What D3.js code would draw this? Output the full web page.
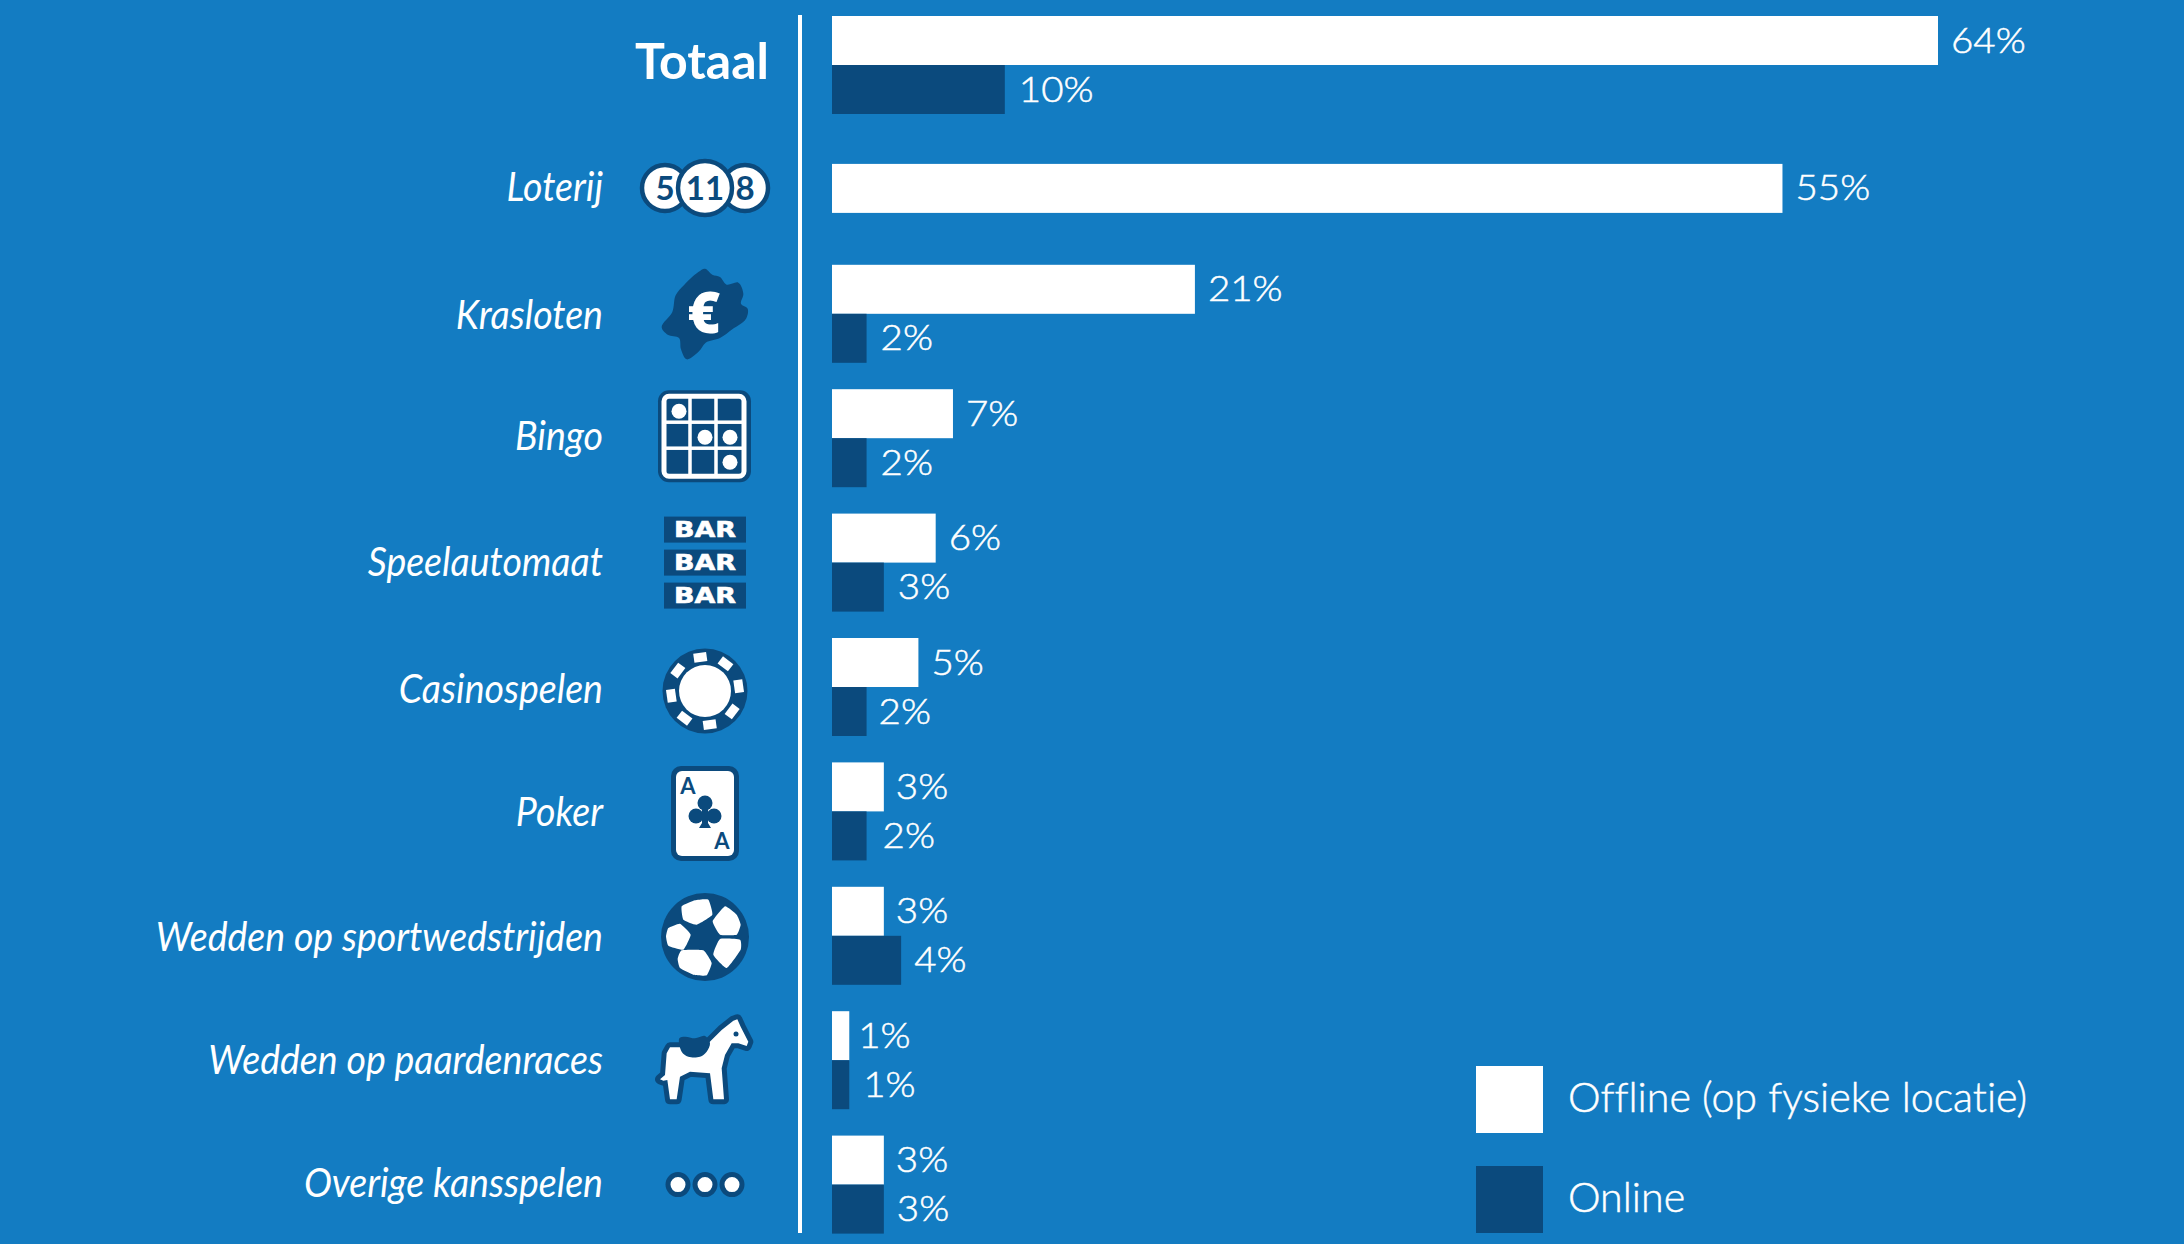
<!DOCTYPE html>
<html><head><meta charset="utf-8">
<script src="https://cdn.jsdelivr.net/npm/d3@7"></script>
<style>html,body{margin:0;padding:0;background:#137cc2}svg{display:block}text{font-variant-ligatures:none}</style>
</head><body><svg id="c" width="2184" height="1244"></svg>
<script>
const categories = ["Totaal","Loterij","Krasloten","Bingo","Speelautomaat","Casinospelen","Poker","Wedden op sportwedstrijden","Wedden op paardenraces","Overige kansspelen"];
const offlineValues = [64,55,21,7,6,5,3,3,1,3];
const onlineValues  = [10,null,2,2,3,2,2,4,1,3];
const seriesNames = ["Offline (op fysieke locatie)","Online"];

const BG="#137cc2", DARK="#0b4a7d", WHITE="#fff";
const FONT="Lato, 'Noto Sans', sans-serif";
const svg=d3.select("#c");
svg.append("rect").attr("width",2184).attr("height",1244).attr("fill",BG);

const x=d3.scaleLinear().domain([0,64]).range([832,1938]);
const y=d3.scaleBand().domain(categories).range([2.8,1246.8]).padding(0);
const cy=c=>y(c)+y.bandwidth()/2;
const barH=49;

// small hand-set layout corrections, per row
const labelDy=[0,0,3,0,1,4,3,3,2,0];
const offDx=[0,0,0,0,0,0,-1,-1,-4,-1];
const onDx=[1,0,1,1,1,-1,3,0,1,0];

const marks=[];
categories.forEach((c,i)=>{
  const off=offlineValues[i], on=onlineValues[i];
  if(on==null){marks.push({c,v:off,top:cy(c)-barH/2-1,fill:WHITE,dx:offDx[i]});}
  else{
    marks.push({c,v:off,top:cy(c)-barH,fill:WHITE,dx:offDx[i]});
    marks.push({c,v:on,top:cy(c),fill:DARK,dx:onDx[i]});
  }
});
svg.append("g").selectAll("rect").data(marks).join("rect")
  .attr("x",x(0)).attr("y",d=>d.top).attr("width",d=>x(d.v)-x(0)).attr("height",barH).attr("fill",d=>d.fill);
svg.append("g").selectAll("text").data(marks).join("text")
  .attr("transform",d=>`translate(${x(d.v)+13+d.dx},${d.top+barH/2+12}) scale(1.07,1)`)
  .attr("font-family",FONT).attr("font-weight",300).attr("font-size",36)
  .attr("fill",WHITE).attr("stroke",WHITE).attr("stroke-width",.5)
  .text(d=>d.v+"%");

// axis line
svg.append("rect").attr("x",798).attr("width",4).attr("y",15).attr("height",1218).attr("fill",WHITE);

// category labels
svg.append("g").selectAll("text").data(categories).join("text")
  .attr("transform",(d,i)=>d==="Totaal"
     ?`translate(769,${cy(d)+14})`
     :`translate(603,${cy(d)+12+labelDy[i]}) scale(.915,1)`)
  .attr("text-anchor","end").attr("fill",WHITE).attr("font-family",FONT)
  .attr("font-style",d=>d==="Totaal"?"normal":"italic")
  .attr("font-weight",d=>d==="Totaal"?700:400)
  .attr("font-size",d=>d==="Totaal"?50:41)
  .text(d=>d);

// legend
const leg=svg.append("g").selectAll("g").data(seriesNames).join("g");
leg.append("rect").attr("x",1476).attr("width",67).attr("height",67)
  .attr("y",(d,i)=>i?1166:1066).attr("fill",(d,i)=>i?DARK:WHITE);
leg.append("text").attr("transform",(d,i)=>`translate(1568,${i?1212:1112}) scale(.98,1)`)
  .attr("font-family",FONT).attr("font-weight",300).attr("font-size",42)
  .attr("fill",WHITE).attr("stroke",WHITE).attr("stroke-width",.5).text(d=>d);

// pictograms (local coordinates around each icon's centre)
const ix=705;
const icon=c=>svg.append("g").attr("transform",`translate(${ix},${cy(c)})`);
const poly=(g,pts,fill,curve)=>g.append("path").attr("d",d3.line().curve(curve||d3.curveLinearClosed)(pts)).attr("fill",fill);

// Loterij
{const g=icon("Loterij");
 g.attr("transform",`translate(${ix},188)`);
 [[-40,0,23,"5"],[40,0,23,"8"],[0,0,27,"11"]].forEach(([a,b,r,t])=>{
  g.append("circle").attr("cx",a).attr("cy",b).attr("r",r).attr("fill",WHITE).attr("stroke",DARK).attr("stroke-width",4.5);
  g.append("text").attr("x",a).attr("y",b+12).attr("text-anchor","middle").attr("font-family",FONT).attr("font-weight",700).attr("font-size",33).attr("fill",DARK).text(t);
 });}
// Krasloten
{const g=icon("Krasloten");
 g.attr("transform",`translate(655,262)`);
 const P=[[130,30],[150,20],[172,38],[195,45],[215,68],[250,62],[265,95],[258,125],[278,140],[272,172],[232,202],[195,228],[152,242],[132,268],[95,292],[78,262],[72,228],[38,218],[20,195],[52,150],[62,100],[88,68]]
  .map(([a,b])=>[a/3,b/3]);
 poly(g,P,DARK,d3.curveCatmullRomClosed);
 g.append("text").attr("x",49).attr("y",71).attr("text-anchor","middle").attr("font-family","'Open Sans',sans-serif").attr("font-weight",800).attr("font-size",56).attr("fill",WHITE).text("€");}
// Bingo
{const g=icon("Bingo");
 g.append("rect").attr("x",-47).attr("y",-48).attr("width",93).attr("height",92).attr("rx",11).attr("fill",DARK);
 g.append("rect").attr("x",-41).attr("y",-42).attr("width",80).attr("height",80).attr("rx",5).attr("fill","none").attr("stroke",WHITE).attr("stroke-width",5);
 [-15,11].forEach(a=>g.append("rect").attr("x",a-1.75).attr("y",-42).attr("width",3.5).attr("height",80).attr("fill",WHITE));
 [-16,10].forEach(b=>g.append("rect").attr("x",-41).attr("y",b-1.75).attr("width",80).attr("height",3.5).attr("fill",WHITE));
 [[-26,-27],[0,-1],[25,-1],[25,24]].forEach(([a,b])=>g.append("circle").attr("cx",a).attr("cy",b).attr("r",7.5).attr("fill",WHITE));}
// Speelautomaat
{const g=icon("Speelautomaat");
 [-46,-13,20].forEach(b=>{
  g.append("rect").attr("x",-41).attr("y",b).attr("width",82).attr("height",26).attr("fill",DARK);
  g.append("text").attr("x",-31).attr("y",b+20.5).attr("textLength",62).attr("lengthAdjust","spacingAndGlyphs").attr("font-family","'DejaVu Sans',sans-serif").attr("font-weight",700).attr("font-size",21).attr("stroke",WHITE).attr("stroke-width",.6).attr("fill",WHITE).text("BAR");
 });}
// Casinospelen
{const g=icon("Casinospelen");
 g.attr("transform",`translate(${ix},691)`);
 g.append("circle").attr("r",42.5).attr("fill",DARK);
 g.append("circle").attr("r",26).attr("fill",WHITE);
 d3.range(8).forEach(k=>g.append("rect").attr("x",-6.5).attr("y",-38.5).attr("width",13).attr("height",9).attr("fill",WHITE).attr("transform",`rotate(${-8+k*45})`));}
// Poker
{const g=icon("Poker");
 g.attr("transform",`translate(${ix},813)`);
 g.append("rect").attr("x",-34).attr("y",-47).attr("width",68).attr("height",95).attr("rx",10).attr("fill",DARK);
 g.append("rect").attr("x",-29).attr("y",-42).attr("width",58).attr("height",85).attr("rx",6).attr("fill",WHITE);
 g.append("text").attr("x",-17).attr("y",-19).attr("text-anchor","middle").attr("font-family",FONT).attr("font-weight",700).attr("font-size",22).attr("fill",DARK).text("A");
 g.append("text").attr("x",17).attr("y",36).attr("text-anchor","middle").attr("font-family",FONT).attr("font-weight",700).attr("font-size",22).attr("fill",DARK).text("A");
 [[0,-10],[-9,3],[9,3]].forEach(([a,b])=>g.append("circle").attr("cx",a).attr("cy",b).attr("r",7.5).attr("fill",DARK));
 poly(g,[[-3,-4],[3,-4],[3,10],[6,15],[-6,15],[-3,10]],DARK);}
// Football
{const g=icon("Wedden op sportwedstrijden");
 g.attr("transform",`translate(${ix},937)`);
 g.append("circle").attr("r",44).attr("fill",DARK);
 const F=a=>a.map(([p,q])=>[(p-315)/3,(q-232)/3]);
 const soft=d3.curveCardinalClosed.tension(.6);
 [[[245,140],[285,122],[325,120],[337,165],[290,195],[250,180]],
  [[375,140],[410,165],[422,195],[410,225],[360,225],[338,185]],
  [[360,238],[420,240],[422,270],[380,325],[340,285]],
  [[245,272],[310,272],[335,310],[320,347],[280,345],[240,325],[233,298]],
  [[205,205],[240,192],[272,225],[250,270],[205,258],[198,230]]]
 .forEach(p=>poly(g,F(p),WHITE,soft));}
// Horse
{const g=icon("Wedden op paardenraces");
 g.attr("transform",`translate(650,1010)`);
 const H=a=>a.map(([p,q])=>[p/3,q/3]);
 const body=[[30,208],[45,195],[50,130],[60,112],[90,112],[175,100],[215,60],[250,32],[262,28],[272,50],[295,95],[290,108],[265,100],[245,100],[225,135],[215,175],[222,268],[190,268],[180,190],[120,185],[90,200],[80,268],[60,268],[52,210],[40,212]];
 g.append("path").attr("d",d3.line().curve(d3.curveLinearClosed)(H(body))).attr("fill",WHITE).attr("stroke",DARK).attr("stroke-width",10).attr("stroke-linejoin","round");
 g.append("path").attr("d",d3.line().curve(d3.curveLinearClosed)(H(body))).attr("fill",WHITE);
 poly(g,H([[88,85],[105,80],[135,85],[165,78],[180,100],[170,125],[150,140],[115,140],[95,125]]),DARK,d3.curveCatmullRomClosed);
 g.append("circle").attr("cx",258/3).attr("cy",72/3).attr("r",2.5).attr("fill",DARK);}
// Overige
{const g=icon("Overige kansspelen");
 [-27,0,27].forEach(a=>g.append("circle").attr("cx",a).attr("r",10).attr("fill",WHITE).attr("stroke",DARK).attr("stroke-width",5));}
</script></body></html>
